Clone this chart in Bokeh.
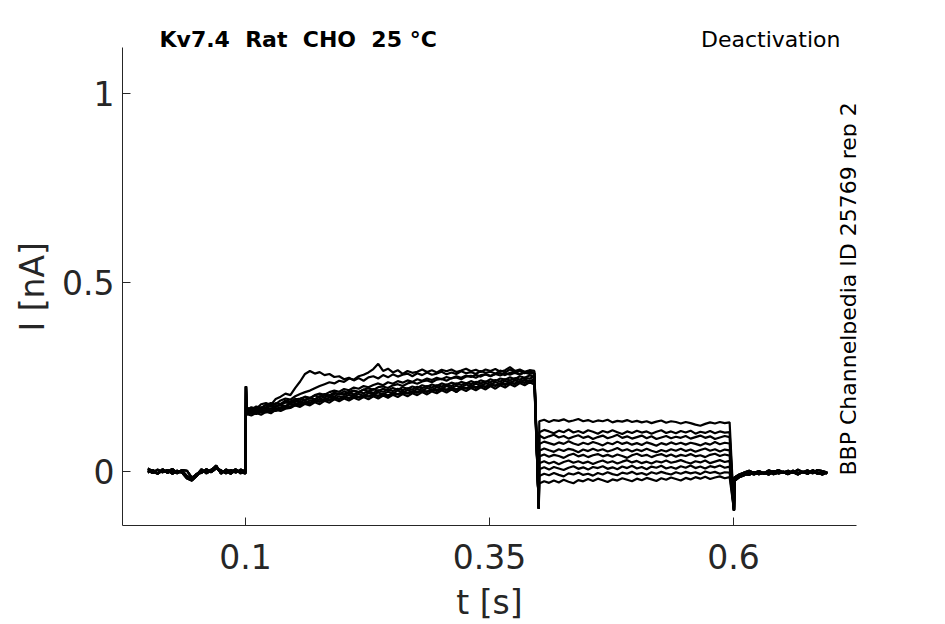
import numpy as np
from bokeh.plotting import figure
from bokeh.models import FixedTicker, Label, Range1d, Title
from bokeh.embed import file_html
from bokeh.resources import INLINE

# ---------------- data ----------------
dt = 0.005
t_pre = [round(k * dt, 4) for k in range(21)]              # 0.000 .. 0.100 s
t_act = [round(0.101 + k * dt, 4) for k in range(60)]      # 0.101 .. 0.396 s
t_deact = [round(0.401 + k * dt, 4) for k in range(40)]    # 0.401 .. 0.596 s
t_post = [round(0.601 + k * dt, 4) for k in range(20)]     # 0.601 .. 0.696 s

t_spike_on, I_spike_on = 0.1005, 0.225
t_spike_off1, I_spike_off1 = 0.4005, -0.098
t_spike_off2, I_spike_off2 = 0.6005, -0.103

pre_A = [0.003, -0.004, 0.005, -0.002, 0.004, -0.006, 0.002, -0.003, -0.018, -0.024, -0.012,
         0.004, -0.003, 0.005, 0.012, -0.004, 0.003, -0.006, 0.004, -0.002, -0.005]
pre_B = [-0.003, 0.004, -0.005, 0.006, -0.004, 0.003, -0.005, 0.002, -0.012, -0.020, -0.006,
         -0.004, 0.006, -0.002, 0.008, 0.003, -0.005, 0.004, -0.003, 0.005, 0.000]
pre_C = [0.008, 0.000, -0.006, 0.003, -0.001, 0.007, -0.004, 0.004, 0.002, -0.016, -0.009,
         0.006, -0.005, 0.003, 0.016, -0.006, 0.005, -0.001, 0.006, -0.005, 0.002]

act_0 = [0.162, 0.170, 0.166, 0.178, 0.181, 0.176, 0.192, 0.198, 0.206, 0.202,
         0.221, 0.238, 0.258, 0.266, 0.259, 0.263, 0.255, 0.258, 0.250, 0.252,
         0.244, 0.248, 0.241, 0.247, 0.240, 0.249, 0.252, 0.246, 0.255, 0.249,
         0.257, 0.251, 0.256, 0.259, 0.252, 0.260, 0.255, 0.262, 0.256, 0.259,
         0.264, 0.257, 0.262, 0.258, 0.265, 0.260, 0.263, 0.258, 0.266, 0.261,
         0.264, 0.259, 0.267, 0.262, 0.270, 0.263, 0.266, 0.260, 0.264, 0.261]
act_1 = [0.158, 0.164, 0.170, 0.167, 0.176, 0.181, 0.178, 0.188, 0.193, 0.190,
         0.199, 0.205, 0.210, 0.214, 0.220, 0.226, 0.231, 0.236, 0.233, 0.240,
         0.237, 0.246, 0.243, 0.252, 0.256, 0.262, 0.271, 0.285, 0.266, 0.272,
         0.262, 0.268, 0.258, 0.266, 0.261, 0.264, 0.270, 0.263, 0.268, 0.262,
         0.269, 0.265, 0.270, 0.263, 0.267, 0.272, 0.265, 0.269, 0.263, 0.270,
         0.266, 0.271, 0.264, 0.268, 0.276, 0.266, 0.270, 0.264, 0.268, 0.266]
act_2 = [0.160, 0.158, 0.166, 0.163, 0.170, 0.174, 0.171, 0.179, 0.184, 0.181,
         0.190, 0.193, 0.197, 0.194, 0.202, 0.206, 0.203, 0.210, 0.214, 0.211,
         0.218, 0.215, 0.222, 0.219, 0.226, 0.223, 0.229, 0.233, 0.228, 0.236,
         0.232, 0.239, 0.235, 0.241, 0.237, 0.244, 0.240, 0.246, 0.242, 0.248,
         0.244, 0.250, 0.246, 0.252, 0.248, 0.254, 0.250, 0.256, 0.251, 0.257,
         0.253, 0.258, 0.254, 0.260, 0.256, 0.261, 0.257, 0.262, 0.258, 0.260]
act_3 = [0.170, 0.163, 0.172, 0.168, 0.177, 0.173, 0.181, 0.178, 0.188, 0.185,
         0.192, 0.189, 0.198, 0.194, 0.201, 0.197, 0.205, 0.201, 0.209, 0.204,
         0.212, 0.207, 0.213, 0.210, 0.216, 0.211, 0.218, 0.213, 0.219, 0.215,
         0.221, 0.216, 0.223, 0.219, 0.225, 0.221, 0.228, 0.224, 0.230, 0.226,
         0.233, 0.229, 0.235, 0.231, 0.237, 0.233, 0.239, 0.234, 0.241, 0.237,
         0.244, 0.239, 0.246, 0.243, 0.249, 0.244, 0.252, 0.248, 0.254, 0.251]
act_4 = [0.161, 0.166, 0.162, 0.170, 0.167, 0.175, 0.172, 0.176, 0.183, 0.181,
         0.184, 0.192, 0.188, 0.195, 0.190, 0.199, 0.196, 0.202, 0.198, 0.206,
         0.203, 0.208, 0.204, 0.210, 0.207, 0.212, 0.208, 0.215, 0.211, 0.216,
         0.213, 0.219, 0.215, 0.220, 0.217, 0.224, 0.220, 0.226, 0.222, 0.228,
         0.225, 0.230, 0.226, 0.233, 0.229, 0.234, 0.231, 0.237, 0.233, 0.238,
         0.236, 0.242, 0.238, 0.244, 0.241, 0.247, 0.243, 0.248, 0.246, 0.250]
act_5 = [0.155, 0.159, 0.157, 0.163, 0.161, 0.167, 0.166, 0.170, 0.173, 0.178,
         0.177, 0.183, 0.181, 0.188, 0.185, 0.192, 0.190, 0.196, 0.194, 0.199,
         0.197, 0.203, 0.199, 0.205, 0.200, 0.207, 0.204, 0.209, 0.205, 0.211,
         0.207, 0.214, 0.209, 0.215, 0.211, 0.218, 0.214, 0.221, 0.216, 0.223,
         0.219, 0.226, 0.221, 0.227, 0.223, 0.230, 0.225, 0.232, 0.227, 0.233,
         0.230, 0.236, 0.232, 0.239, 0.235, 0.241, 0.237, 0.243, 0.239, 0.244]
act_6 = [0.157, 0.153, 0.160, 0.156, 0.164, 0.160, 0.167, 0.165, 0.172, 0.171,
         0.180, 0.176, 0.184, 0.180, 0.189, 0.184, 0.192, 0.188, 0.196, 0.191,
         0.199, 0.194, 0.200, 0.196, 0.202, 0.198, 0.204, 0.199, 0.206, 0.201,
         0.208, 0.204, 0.210, 0.206, 0.212, 0.208, 0.215, 0.210, 0.217, 0.213,
         0.220, 0.215, 0.222, 0.217, 0.224, 0.219, 0.226, 0.221, 0.228, 0.223,
         0.231, 0.226, 0.233, 0.229, 0.236, 0.231, 0.239, 0.234, 0.241, 0.236]
act_7 = [0.150, 0.155, 0.152, 0.158, 0.156, 0.161, 0.160, 0.166, 0.169, 0.172,
         0.175, 0.178, 0.180, 0.182, 0.184, 0.186, 0.189, 0.190, 0.193, 0.193,
         0.196, 0.195, 0.198, 0.197, 0.200, 0.199, 0.202, 0.201, 0.204, 0.196,
         0.206, 0.205, 0.208, 0.207, 0.210, 0.211, 0.213, 0.212, 0.215, 0.216,
         0.218, 0.217, 0.220, 0.210, 0.222, 0.221, 0.224, 0.223, 0.226, 0.225,
         0.229, 0.228, 0.231, 0.231, 0.234, 0.233, 0.237, 0.236, 0.239, 0.238]
act_8 = [0.152, 0.148, 0.155, 0.150, 0.158, 0.154, 0.163, 0.160, 0.166, 0.168,
         0.175, 0.171, 0.179, 0.175, 0.183, 0.178, 0.187, 0.182, 0.191, 0.186,
         0.193, 0.188, 0.195, 0.190, 0.197, 0.191, 0.199, 0.193, 0.201, 0.195,
         0.203, 0.197, 0.205, 0.199, 0.207, 0.202, 0.210, 0.204, 0.212, 0.207,
         0.215, 0.209, 0.217, 0.211, 0.219, 0.213, 0.221, 0.215, 0.223, 0.217,
         0.226, 0.219, 0.228, 0.222, 0.231, 0.225, 0.234, 0.228, 0.236, 0.230]
act_9 = [0.159, 0.163, 0.160, 0.166, 0.169, 0.166, 0.173, 0.176, 0.173, 0.181,
         0.186, 0.183, 0.190, 0.194, 0.191, 0.198, 0.201, 0.198, 0.205, 0.207,
         0.204, 0.211, 0.214, 0.210, 0.217, 0.220, 0.216, 0.223, 0.225, 0.221,
         0.228, 0.231, 0.226, 0.233, 0.236, 0.232, 0.238, 0.241, 0.236, 0.243,
         0.245, 0.240, 0.247, 0.249, 0.244, 0.251, 0.253, 0.248, 0.255, 0.257,
         0.252, 0.258, 0.260, 0.255, 0.261, 0.263, 0.257, 0.262, 0.265, 0.259]

deact_0 = [0.133, 0.137, 0.131, 0.136, 0.134, 0.138, 0.132, 0.135, 0.139, 0.133,
           0.136, 0.131, 0.135, 0.133, 0.137, 0.130, 0.134, 0.132, 0.136, 0.131,
           0.134, 0.130, 0.133, 0.128, 0.132, 0.135, 0.129, 0.133, 0.131, 0.127,
           0.131, 0.128, 0.124, 0.121, 0.126, 0.130, 0.127, 0.131, 0.128, 0.130]
deact_1 = [0.104, 0.110, 0.106, 0.101, 0.108, 0.104, 0.111, 0.103, 0.107, 0.102,
           0.109, 0.105, 0.100, 0.107, 0.103, 0.109, 0.104, 0.099, 0.106, 0.102,
           0.108, 0.103, 0.106, 0.100, 0.105, 0.109, 0.102, 0.106, 0.101, 0.107,
           0.103, 0.108, 0.100, 0.105, 0.102, 0.107, 0.101, 0.106, 0.103, 0.104]
deact_2 = [0.095, 0.088, 0.093, 0.097, 0.090, 0.094, 0.087, 0.092, 0.096, 0.089,
           0.093, 0.086, 0.091, 0.095, 0.088, 0.092, 0.097, 0.089, 0.093, 0.087,
           0.091, 0.095, 0.088, 0.093, 0.086, 0.090, 0.094, 0.088, 0.092, 0.089,
           0.094, 0.087, 0.091, 0.095, 0.089, 0.093, 0.086, 0.090, 0.094, 0.091]
deact_3 = [0.073, 0.079, 0.075, 0.071, 0.077, 0.073, 0.080, 0.074, 0.070, 0.076,
           0.072, 0.078, 0.074, 0.069, 0.076, 0.072, 0.079, 0.073, 0.077, 0.071,
           0.075, 0.070, 0.077, 0.073, 0.068, 0.075, 0.071, 0.077, 0.072, 0.076,
           0.071, 0.076, 0.073, 0.069, 0.075, 0.071, 0.078, 0.072, 0.076, 0.074]
deact_4 = [0.055, 0.061, 0.056, 0.052, 0.059, 0.054, 0.060, 0.057, 0.051, 0.058,
           0.054, 0.060, 0.055, 0.059, 0.053, 0.057, 0.062, 0.055, 0.059, 0.053,
           0.058, 0.054, 0.060, 0.055, 0.051, 0.057, 0.053, 0.059, 0.055, 0.060,
           0.054, 0.058, 0.052, 0.057, 0.061, 0.055, 0.059, 0.053, 0.058, 0.056]
deact_5 = [0.040, 0.045, 0.039, 0.044, 0.041, 0.036, 0.043, 0.047, 0.040, 0.044,
           0.038, 0.043, 0.046, 0.040, 0.044, 0.039, 0.045, 0.041, 0.036, 0.043,
           0.047, 0.041, 0.044, 0.038, 0.043, 0.046, 0.040, 0.045, 0.039, 0.044,
           0.041, 0.046, 0.040, 0.043, 0.038, 0.044, 0.047, 0.041, 0.045, 0.042]
deact_6 = [0.022, 0.027, 0.021, 0.026, 0.019, 0.025, 0.029, 0.023, 0.027, 0.022,
           0.026, 0.020, 0.025, 0.029, 0.023, 0.027, 0.021, 0.026, 0.030, 0.024,
           0.028, 0.022, 0.026, 0.021, 0.027, 0.024, 0.029, 0.023, 0.026, 0.030,
           0.025, 0.021, 0.027, 0.024, 0.029, 0.022, 0.026, 0.030, 0.025, 0.028]
deact_7 = [0.006, 0.011, 0.005, 0.012, 0.008, 0.004, 0.010, 0.014, 0.007, 0.011,
           0.005, 0.012, 0.009, 0.014, 0.007, 0.011, 0.006, 0.013, 0.009, 0.015,
           0.008, 0.012, 0.006, 0.013, 0.010, 0.015, 0.008, 0.012, 0.007, 0.014,
           0.010, 0.016, 0.009, 0.013, 0.008, 0.014, 0.011, 0.016, 0.010, 0.013]
deact_8 = [-0.012, -0.006, -0.010, -0.004, -0.009, -0.013, -0.005, -0.008, -0.003, -0.009,
           -0.006, -0.011, -0.004, -0.008, -0.002, -0.007, -0.010, -0.003, -0.006, -0.001,
           -0.007, -0.004, -0.009, -0.002, -0.006, -0.001, -0.005, -0.008, -0.002, -0.006,
           -0.001, -0.005, -0.002, -0.007, 0.000, -0.004, -0.001, -0.006, -0.002, -0.003]
deact_9 = [-0.032, -0.026, -0.030, -0.024, -0.029, -0.022, -0.027, -0.031, -0.023, -0.026,
           -0.020, -0.025, -0.019, -0.023, -0.028, -0.021, -0.024, -0.018, -0.022, -0.026,
           -0.019, -0.023, -0.017, -0.021, -0.025, -0.018, -0.022, -0.016, -0.020, -0.024,
           -0.017, -0.021, -0.015, -0.019, -0.014, -0.020, -0.016, -0.013, -0.018, -0.015]

post_A = [-0.022, -0.012, -0.006, -0.009, -0.002, -0.007, -0.003, -0.008, 0.001, -0.005,
          -0.002, -0.007, 0.002, -0.004, -0.001, -0.006, 0.003, -0.003, -0.008, -0.002]
post_B = [-0.016, -0.008, -0.003, 0.002, -0.004, 0.001, -0.005, 0.003, -0.002, 0.004,
          -0.003, 0.002, -0.004, 0.005, -0.002, 0.003, -0.005, 0.004, 0.001, -0.003]
post_C = [-0.025, -0.015, -0.010, -0.004, -0.008, -0.002, -0.006, -0.001, -0.007, -0.003,
          0.000, -0.006, -0.002, -0.008, -0.001, -0.004, 0.001, -0.006, -0.002, -0.005]

pre_traces = [pre_A, pre_B, pre_C]
post_traces = [post_A, post_B, post_C]
act_traces = [act_0, act_1, act_2, act_3, act_4, act_5, act_6, act_7, act_8, act_9]
deact_traces = [deact_0, deact_1, deact_2, deact_3, deact_4, deact_5, deact_6, deact_7, deact_8, deact_9]

x_ticks = [0.1, 0.35, 0.6]
x_tick_labels = ["0.1", "0.35", "0.6"]
y_ticks = [0, 0.5, 1]
y_tick_labels = ["0", "0.5", "1"]

x_axis_extent = (-0.026, 0.726)
y_axis_extent = (-0.1429, 1.1217)

# ---------------- figure ----------------
INK = "#262626"
FONT = "DejaVu Sans"

p = figure(width=945, height=624, output_backend="svg", toolbar_location=None,
           x_range=Range1d(*x_axis_extent), y_range=Range1d(-0.1429, 1.2196),
           min_border_left=122, min_border_right=89, min_border_top=10, min_border_bottom=99)
p.outline_line_color = None
p.grid.visible = False
p.background_fill_color = "white"
p.border_fill_color = "white"

t_all = t_pre + [t_spike_on] + t_act + [t_spike_off1] + t_deact + [t_spike_off2] + t_post
for k in range(10):
    I_all = (pre_traces[k % 3] + [I_spike_on] + act_traces[k] + [I_spike_off1]
             + deact_traces[k] + [I_spike_off2] + post_traces[k % 3])
    p.line(t_all, I_all, line_color="black", line_width=2.2)

for ax, ticks, labels, ext in ((p.xaxis[0], x_ticks, x_tick_labels, x_axis_extent),
                               (p.yaxis[0], y_ticks, y_tick_labels, y_axis_extent)):
    ax.ticker = FixedTicker(ticks=ticks)
    ax.major_label_overrides = {v: s for v, s in zip(ticks, labels)}
    ax.bounds = ext
    ax.major_label_text_font = FONT
    ax.major_label_text_font_size = "33px"
    ax.major_label_text_color = INK
    ax.axis_line_color = INK
    ax.major_tick_line_color = INK
    ax.major_tick_in = 8
    ax.major_tick_out = 0
    ax.minor_tick_line_color = None

xa = p.xaxis[0]
xa.axis_label = "t [s]"
xa.axis_label_text_font = FONT
xa.axis_label_text_font_size = "33px"
xa.axis_label_text_font_style = "normal"
xa.axis_label_text_color = INK
xa.major_label_standoff = 18
xa.axis_label_standoff = 11
p.yaxis[0].major_label_standoff = 8

# y-axis label, centred on the drawn axis line (the frame reaches higher to hold the header texts)
p.add_layout(Title(text="I [nA]", align="left", offset=194, standoff=16,
                   text_font=FONT, text_font_size="33px", text_font_style="normal",
                   text_color=INK), "left")

p.add_layout(Label(x=0.0119, y=1.1429,
                   text="Kv7.4\u00a0\u00a0Rat\u00a0\u00a0CHO\u00a0\u00a025\u00a0\u00b0C",
                   text_font=FONT, text_font_size="22px", text_font_style="bold",
                   text_color="black", text_align="left", text_baseline="alphabetic"))
p.add_layout(Label(x=0.7096, y=1.1429,
                   text="Deactivation", text_font=FONT, text_font_size="22px",
                   text_color="black", text_align="right", text_baseline="alphabetic"))
p.add_layout(Label(x=0.7183, y=-0.0106, angle=np.pi / 2,
                   text="BBP Channelpedia ID 25769 rep 2", text_font=FONT, text_font_size="22px",
                   text_color="black", text_align="left", text_baseline="alphabetic"))

open("out.html", "w").write(file_html(p, INLINE))
